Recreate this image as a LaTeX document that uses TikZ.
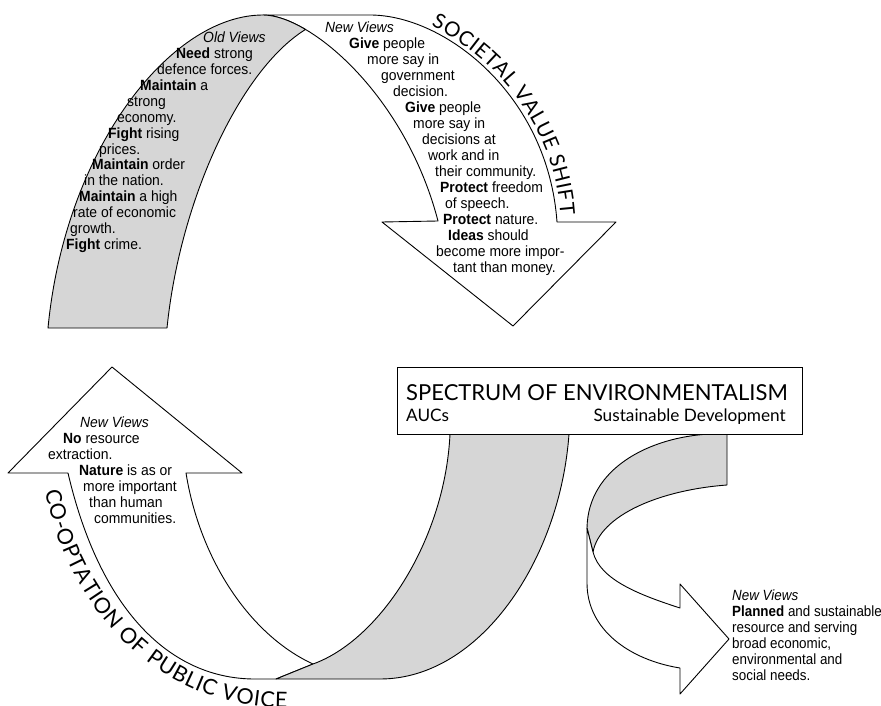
\documentclass[tikz,border=0pt]{standalone}
\usepackage{fontspec}
\usetikzlibrary{decorations.text}
\newfontfamily\bodyfont{Liberation Sans}[FakeStretch=0.94]
\newfontfamily\sidefont{Liberation Sans}[FakeStretch=0.905]
\newfontfamily\titlefont{Lato}
\definecolor{ribbongray}{HTML}{D6D6D6}
\tikzset{
  band/.style={draw=black, line width=0.9pt, line join=round},
  backface/.style={band, fill=ribbongray},
  frontface/.style={band, fill=white},
  bodytxt/.style={anchor=base west, inner sep=0pt, font=\bodyfont\fontsize{14.8}{16}\selectfont},
  sidetxt/.style={anchor=base west, inner sep=0pt, font=\sidefont\fontsize{14.8}{16}\selectfont},
  titletxt/.style={inner sep=0pt, font=\titlefont\fontsize{22}{24}\selectfont},
  subtxt/.style={inner sep=0pt, font=\titlefont\fontsize{17.2}{18}\selectfont},
  specbox/.style={draw=black, line width=1pt, fill=white, minimum width=405pt, minimum height=67pt, inner sep=0pt},
}
\newcommand\bline[4]{\node[bodytxt] (#1) at (#2,#3) {#4};}
\newcommand\sline[4]{\node[sidetxt] (#1) at (#2,#3) {#4};}
\begin{document}
\begin{tikzpicture}[x=1pt,y=-1pt]
\useasboundingbox (0,0) rectangle (881,706);
% ---------- top ribbon : societal value shift
\draw[frontface] (263,15) -- (370,15) .. controls (445,15) and (548,95) .. (557,222)
  -- (616,222) -- (513,326) -- (382,222) -- (438,221)
  .. controls (413.25,126.25) and (353.625,57.8125) .. (305.53,29.45)
  .. controls (289.5,20) and (274.75,15) .. (263,15) -- cycle;
\draw[backface] (48,328) .. controls (65,150) and (170,15) .. (263,15)
  .. controls (274.75,15) and (289.5,20) .. (305.53,29.45)
  .. controls (240,70) and (180,200) .. (167,328) -- cycle;
% ---------- lower left up arrow : co-optation
\draw[frontface] (68,473) -- (8,473) -- (112,367) -- (242,473) -- (186,473)
  .. controls (200,560) and (250,635) .. (313,664) -- (276,679) -- (255,679)
  .. controls (170,679) and (100,610) .. (68,473) -- cycle;
\draw[backface] (276,679) -- (313,664) .. controls (380,640) and (445,540) .. (450,434)
  -- (569,434) .. controls (560,560) and (480,679) .. (380,679) -- cycle;
% ---------- right ribbon
\draw[backface] (710,434) -- (727,434) -- (727,485) .. controls (660,490) and (600,515) .. (593,552)
  -- (587,528) .. controls (588,468) and (650,437) .. (710,434) -- cycle;
\draw[frontface] (587,528) -- (593,552) .. controls (600,580) and (640,595) .. (680,608)
  -- (680,584) -- (729,639) -- (680,694) -- (680,668)
  .. controls (630,660) and (587,630) .. (587,583) -- cycle;
% ---------- spectrum box
\node[specbox] (spec) at (599.5,400.5) {};
\node[titletxt, anchor=base west] (spectitle) at (406,400) {SPECTRUM OF ENVIRONMENTALISM};
\node[subtxt, anchor=base west] (aucs) at (406,421) {AUCs};
\node[subtxt, anchor=base east] (sustdev) at (786,421) {Sustainable Development};
% ---------- curved labels
\path[decorate, decoration={text along path, text align=fit to path,
  text={|\titlefont\fontsize{20.5}{20}\selectfont|SOCIETAL VALUE SHIFT}}]
  (431,26) .. controls (493.5,55.25) and (554.25,125.75) .. (560.5,215);
\path[decorate, decoration={text along path, text align=fit to path,
  text={|\titlefont\fontsize{21.5}{21}\selectfont|CO-OPTATION OF PUBLIC VOICE}}]
  (45,491) .. controls (70,612) and (160,708) .. (287,708);
% ---------- old views
\bline{ov1}{203}{43}{\itshape Old Views}
\bline{ov2}{176}{58.9}{\bfseries Need\mdseries{} strong}
\bline{ov3}{157}{74.7}{defence forces.}
\bline{ov4}{140}{90.6}{\bfseries Maintain\mdseries{} a}
\bline{ov5}{127}{106.4}{strong}
\bline{ov6}{117}{122.3}{economy.}
\bline{ov7}{108}{138.1}{\bfseries Fight\mdseries{} rising}
\bline{ov8}{99}{154}{prices.}
\bline{ov9}{92}{169.8}{\bfseries Maintain\mdseries{} order}
\bline{ov10}{84}{185.7}{in the nation.}
\bline{ov11}{79}{201.5}{\bfseries Maintain\mdseries{} a high}
\bline{ov12}{73}{217.4}{rate of economic}
\bline{ov13}{70}{233.2}{growth.}
\bline{ov14}{66}{249}{\bfseries Fight\mdseries{} crime.}
% ---------- new views (top)
\bline{nv1}{325}{33}{\itshape New Views}
\bline{nv2}{349}{48.9}{\bfseries Give\mdseries{} people}
\bline{nv3}{367}{64.9}{more say in}
\bline{nv4}{381}{80.8}{government}
\bline{nv5}{393}{96.7}{decision.}
\bline{nv6}{405}{112.7}{\bfseries Give\mdseries{} people}
\bline{nv7}{413}{128.6}{more say in}
\bline{nv8}{422}{144.5}{decisions at}
\bline{nv9}{428}{160.4}{work and in}
\bline{nv10}{435}{176.4}{their community.}
\bline{nv11}{440}{192.3}{\bfseries Protect\mdseries{} freedom}
\bline{nv12}{445}{208.2}{of speech.}
\bline{nv13}{443}{224.2}{\bfseries Protect\mdseries{} nature.}
\bline{nv14}{448}{240.1}{\bfseries Ideas\mdseries{} should}
\bline{nv15}{436}{256}{become more impor-}
\bline{nv16}{453}{272}{tant than money.}
% ---------- new views (lower left)
\bline{lv1}{80}{427}{\itshape New Views}
\bline{lv2}{63}{443}{\bfseries No\mdseries{} resource}
\bline{lv3}{48}{459}{extraction.}
\bline{lv4}{79}{475}{\bfseries Nature\mdseries{} is as or}
\bline{lv5}{83}{491}{more important}
\bline{lv6}{89}{507}{than human}
\bline{lv7}{94}{523}{communities.}
% ---------- new views (lower right)
\sline{rv1}{732}{600}{\itshape New Views}
\sline{rv2}{732}{616}{\bfseries Planned\mdseries{} and sustainable}
\sline{rv3}{732}{632}{resource and serving}
\sline{rv4}{732}{648}{broad economic,}
\sline{rv5}{732}{664}{environmental and}
\sline{rv6}{732}{680}{social needs.}
\end{tikzpicture}
\end{document}
